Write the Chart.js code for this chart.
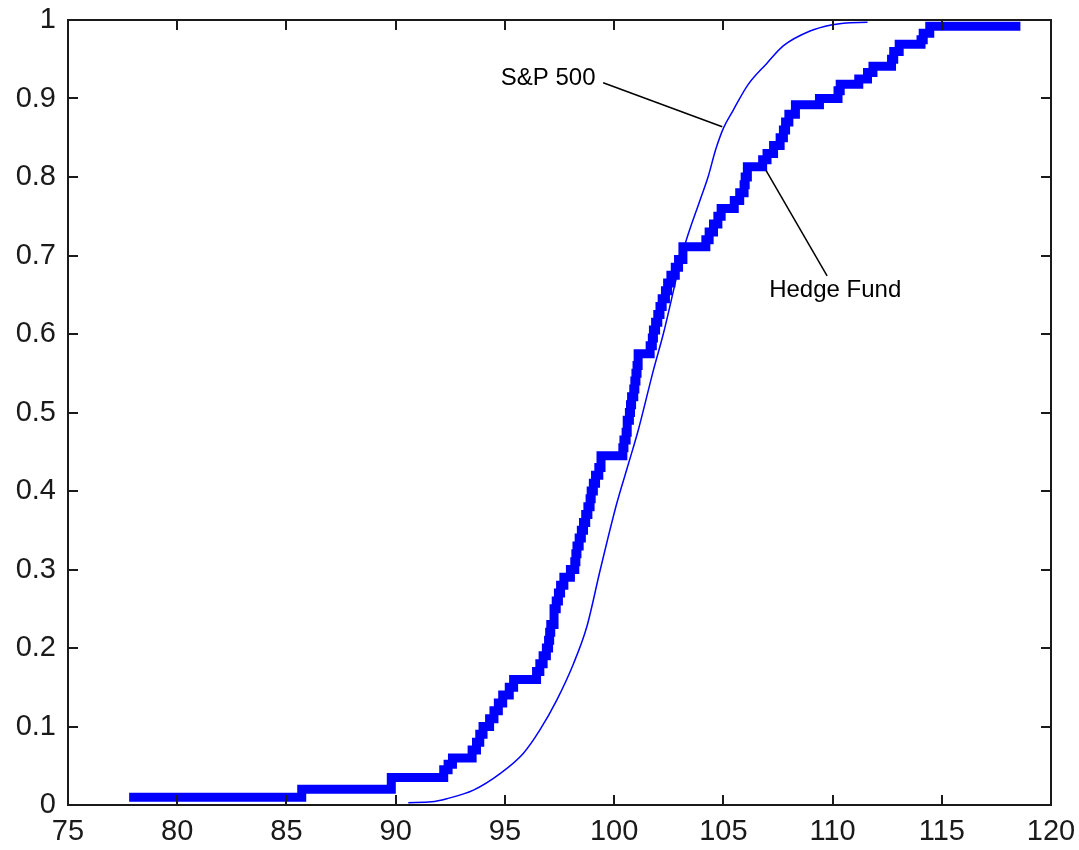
<!DOCTYPE html>
<html><head><meta charset="utf-8">
<script src="https://cdn.jsdelivr.net/npm/chart.js@4.4.1/dist/chart.umd.min.js"></script>
<style>html,body{margin:0;padding:0;background:#fff;} #wrap{width:1079px;height:850px;position:relative;}</style>
</head><body><div id="wrap"><canvas id="c" width="1079" height="850"></canvas></div>
<script>
// Hedge fund empirical CDF (step points)
const hedgeX = [77.8, 85.7, 89.8, 92.2, 92.4, 92.6, 93.5, 93.7, 93.85, 94.0, 94.3, 94.5, 94.7, 94.9, 95.2, 95.4, 96.45, 96.6, 96.75, 96.9, 97.0, 97.05, 97.1, 97.25, 97.35, 97.45, 97.55, 97.7, 98.0, 98.2, 98.25, 98.3, 98.4, 98.5, 98.6, 98.7, 98.8, 98.9, 98.95, 99.05, 99.15, 99.3, 99.4, 100.4, 100.45, 100.55, 100.6, 100.7, 100.75, 100.8, 100.9, 100.95, 101.0, 101.05, 101.1, 101.65, 101.75, 101.8, 101.9, 102.0, 102.1, 102.2, 102.35, 102.45, 102.6, 102.8, 102.95, 103.15, 104.2, 104.35, 104.55, 104.75, 104.9, 105.5, 105.75, 105.95, 106.0, 106.1, 106.8, 107.0, 107.3, 107.6, 107.75, 107.85, 108.0, 108.3, 109.4, 110.25, 110.35, 111.2, 111.6, 111.85, 112.7, 112.8, 113.05, 114.05, 114.15, 114.45, 118.6];
const hedgeY = [0.010, 0.020, 0.035, 0.045, 0.052, 0.060, 0.07, 0.08, 0.09, 0.10, 0.11, 0.12, 0.13, 0.14, 0.15, 0.16, 0.17, 0.18, 0.19, 0.20, 0.21, 0.22, 0.23, 0.25, 0.26, 0.27, 0.28, 0.29, 0.30, 0.31, 0.32, 0.33, 0.34, 0.35, 0.36, 0.37, 0.38, 0.39, 0.40, 0.41, 0.42, 0.43, 0.445, 0.455, 0.465, 0.475, 0.49, 0.50, 0.51, 0.52, 0.53, 0.54, 0.55, 0.56, 0.575, 0.585, 0.595, 0.605, 0.615, 0.625, 0.635, 0.645, 0.655, 0.665, 0.675, 0.685, 0.695, 0.711, 0.72, 0.73, 0.74, 0.75, 0.76, 0.77, 0.78, 0.79, 0.80, 0.813, 0.822, 0.83, 0.84, 0.85, 0.86, 0.87, 0.88, 0.892, 0.90, 0.91, 0.918, 0.925, 0.933, 0.941, 0.95, 0.96, 0.969, 0.975, 0.983, 0.992, 0.992];
// S&P 500 CDF
const spX = [90.58, 91.65, 92.34, 93.56, 94.78, 95.85, 96.61, 97.38, 98.14, 98.75, 99.36, 100.12, 100.66, 101.11, 101.8, 102.26, 103.17, 103.94, 104.3, 104.65, 105.0, 105.45, 106.14, 107.0, 107.74, 108.97, 110.0, 110.5, 111.6];
const spY = [0.003, 0.004, 0.008, 0.019, 0.040, 0.066, 0.096, 0.134, 0.180, 0.227, 0.299, 0.384, 0.435, 0.478, 0.554, 0.601, 0.707, 0.771, 0.800, 0.835, 0.862, 0.885, 0.918, 0.945, 0.967, 0.986, 0.994, 0.996, 0.997];

const xTicks = [75, 80, 85, 90, 95, 100, 105, 110, 115, 120];
const xTickLabels = ['75', '80', '85', '90', '95', '100', '105', '110', '115', '120'];
const yTicks = [0, 0.1, 0.2, 0.3, 0.4, 0.5, 0.6, 0.7, 0.8, 0.9, 1];
const yTickLabels = ['0', '0.1', '0.2', '0.3', '0.4', '0.5', '0.6', '0.7', '0.8', '0.9', '1'];

// Annotations: text, text anchor (data), arrow line start/end (data)
const annoLabels = ['S&P 500', 'Hedge Fund'];
const annoTextX = [96.98, 110.12];
const annoTextY = [0.926, 0.655];
const annoLineX1 = [99.5, 106.96];
const annoLineY1 = [0.920, 0.808];
const annoLineX2 = [104.95, 109.75];
const annoLineY2 = [0.864, 0.674];

const TICK_FONT = "'Liberation Sans', Arial, sans-serif";
const AXIS_COLOR = '#1a1a1a';

const framePlugin = {
  id: 'frame',
  afterDatasetsDraw(chart) {
    const {ctx, chartArea: a, scales: {x, y}} = chart;
    ctx.save();
    ctx.strokeStyle = AXIS_COLOR;
    ctx.lineWidth = 2;
    ctx.strokeRect(a.left, a.top, a.right - a.left, a.bottom - a.top);
    const tl = 10;
    ctx.beginPath();
    xTicks.forEach(v => {
      const px = Math.round(x.getPixelForValue(v));
      if (v === xTicks[0] || v === xTicks[xTicks.length - 1]) return;
      ctx.moveTo(px, a.bottom); ctx.lineTo(px, a.bottom - tl);
      ctx.moveTo(px, a.top); ctx.lineTo(px, a.top + tl);
    });
    yTicks.forEach(v => {
      const py = Math.round(y.getPixelForValue(v));
      if (v === yTicks[0] || v === yTicks[yTicks.length - 1]) return;
      ctx.moveTo(a.left, py); ctx.lineTo(a.left + tl, py);
      ctx.moveTo(a.right, py); ctx.lineTo(a.right - tl, py);
    });
    ctx.stroke();
    // annotations
    ctx.strokeStyle = '#000';
    ctx.lineWidth = 1.5;
    ctx.fillStyle = '#000';
    ctx.font = "24px 'Liberation Sans', Arial, sans-serif";
    ctx.textAlign = 'center';
    ctx.textBaseline = 'middle';
    annoLabels.forEach((t, i) => {
      ctx.beginPath();
      ctx.moveTo(x.getPixelForValue(annoLineX1[i]), y.getPixelForValue(annoLineY1[i]));
      ctx.lineTo(x.getPixelForValue(annoLineX2[i]), y.getPixelForValue(annoLineY2[i]));
      ctx.stroke();
      ctx.fillText(t, x.getPixelForValue(annoTextX[i]), y.getPixelForValue(annoTextY[i]));
    });
    ctx.restore();
  }
};

new Chart(document.getElementById('c'), {
  type: 'line',
  data: {
    datasets: [
      {
        label: 'S&P 500',
        data: spX.map((v, i) => ({x: v, y: spY[i]})),
        borderColor: '#0000ff',
        borderWidth: 1.5,
        pointRadius: 0,
        cubicInterpolationMode: 'monotone',
        fill: false
      },
      {
        label: 'Hedge Fund',
        data: hedgeX.map((v, i) => ({x: v, y: hedgeY[i]})),
        borderColor: '#0000ff',
        borderWidth: 9,
        borderJoinStyle: 'miter',
        borderCapStyle: 'butt',
        stepped: 'before',
        pointRadius: 0,
        fill: false
      }
    ]
  },
  options: {
    responsive: false,
    animation: false,
    devicePixelRatio: 1,
    layout: {padding: {left: 0, top: 20, right: 28, bottom: 0}},
    plugins: {legend: {display: false}, tooltip: {enabled: false}},
    scales: {
      x: {
        type: 'linear', min: 75, max: 120,
        afterBuildTicks: s => { s.ticks = xTicks.map(v => ({value: v})); },
        afterFit: s => { s.height = 45; s.paddingLeft = 0; s.paddingRight = 0; },
        grid: {display: false, drawTicks: false},
        border: {display: false},
        ticks: {
          color: AXIS_COLOR, padding: 10, maxRotation: 0, autoSkip: false,
          font: {family: TICK_FONT, size: 29},
          callback: (v) => { const i = xTicks.indexOf(v); return i >= 0 ? xTickLabels[i] : ''; }
        }
      },
      y: {
        type: 'linear', min: 0, max: 1,
        afterBuildTicks: s => { s.ticks = yTicks.map(v => ({value: v})); },
        afterFit: s => { s.width = 68; s.paddingTop = 0; s.paddingBottom = 0; },
        grid: {display: false, drawTicks: false},
        border: {display: false},
        ticks: {
          color: AXIS_COLOR, padding: 12, autoSkip: false,
          font: {family: TICK_FONT, size: 29},
          callback: (v) => { const i = yTicks.findIndex(t => Math.abs(t - v) < 1e-9); return i >= 0 ? yTickLabels[i] : ''; }
        }
      }
    }
  },
  plugins: [framePlugin]
});
</script>
</body></html>
